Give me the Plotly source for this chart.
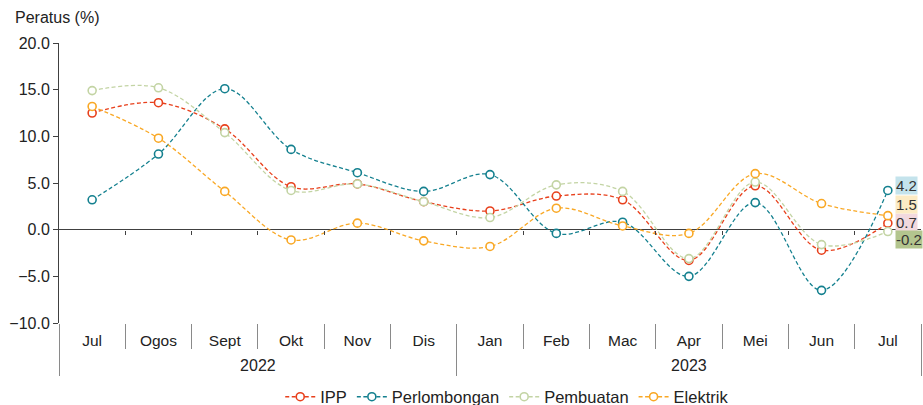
import plotly.graph_objects as go

months = ["Jul", "Ogos", "Sept", "Okt", "Nov", "Dis", "Jan", "Feb", "Mac", "Apr", "Mei", "Jun", "Jul"]
years = ["2022"] * 6 + ["2023"] * 7

ipp = [12.5, 13.6, 10.8, 4.6, 4.9, 3.0, 2.0, 3.6, 3.2, -3.3, 4.7, -2.2, 0.7]
perlombongan = [3.2, 8.1, 15.1, 8.6, 6.1, 4.1, 5.9, -0.4, 0.8, -5.0, 2.9, -6.5, 4.2]
pembuatan = [14.9, 15.2, 10.4, 4.2, 4.9, 3.0, 1.3, 4.8, 4.1, -3.1, 5.1, -1.6, -0.2]
elektrik = [13.2, 9.8, 4.1, -1.1, 0.7, -1.2, -1.8, 2.3, 0.4, -0.4, 6.0, 2.8, 1.5]

series = [
    ("IPP", ipp, "#E8401C", "#F2D9DE", 1),
    ("Perlombongan", perlombongan, "#14808F", "#C4E3EC", 5),
    ("Pembuatan", pembuatan, "#C3D4A4", "#B3C58E", -8),
    ("Elektrik", elektrik, "#F9A825", "#FCEBC4", 11),
]

y_range = [-10, 20]
n = len(months)
idx = list(range(n))
x_range = [-0.5, n - 0.5]

# year groups derived from the data
year_names = list(dict.fromkeys(years))
year_centers = [sum(i for i in idx if years[i] == y) / years.count(y) for y in year_names]
year_bounds = [-0.5] + [i + 0.5 for i in idx[:-1] if years[i] != years[i + 1]] + [n - 0.5]
month_bounds = [i + 0.5 for i in idx[:-1] if years[i] == years[i + 1]]

FONT = "Liberation Sans, Arial, sans-serif"
TXT = "#222222"
AX = "#404040"
DIV = "#8a8a8a"

fig = go.Figure()
for name, vals, col, bg, ys in series:
    fig.add_trace(go.Scatter(
        x=idx, y=vals, name=name, mode="lines+markers",
        line=dict(color=col, width=1.3, dash="4px,2.5px", shape="spline", smoothing=1),
        marker=dict(symbol="circle", size=8, color="white", line=dict(color=col, width=1.6)),
        hovertemplate="%{y:.1f}<extra>" + name + "</extra>",
    ))

# invisible hosts for the helper axes
fig.add_trace(go.Scatter(x=[None], y=[None], xaxis="x2", showlegend=False, hoverinfo="skip"))
fig.add_trace(go.Scatter(x=[None], y=[None], xaxis="x3", showlegend=False, hoverinfo="skip"))

for name, vals, col, bg, ys in series:
    fig.add_annotation(
        x=idx[-1], y=vals[-1], xref="x", yref="y",
        text=f"{vals[-1]:.1f}", showarrow=False, xanchor="left", yanchor="middle",
        xshift=7, yshift=ys, bgcolor=bg, borderpad=0,
        font=dict(family=FONT, size=15, color="#333333"),
    )

zero_pos = (0 - y_range[0]) / (y_range[1] - y_range[0])

fig.update_layout(
    width=923, height=405,
    margin=dict(l=59, r=2, t=43, b=82),
    paper_bgcolor="white", plot_bgcolor="white",
    font=dict(family=FONT, size=15, color=TXT),
    title=dict(text="Peratus (%)", x=15/923, xanchor="left", y=1-17/405, yanchor="middle",
               xref="container", yref="container", font=dict(family=FONT, size=16, color=TXT)),
    xaxis=dict(range=x_range, tickmode="array", tickvals=idx, ticktext=months,
               ticks="", showgrid=False, zeroline=False, showline=False, automargin=False,
               ticklabelstandoff=6,
               minor=dict(tickmode="array", tickvals=month_bounds, ticks="outside",
                          ticklen=25, tickcolor=DIV, tickwidth=1, showgrid=False),
               tickfont=dict(family=FONT, size=15.5, color=TXT)),
    xaxis2=dict(overlaying="x", anchor="free", position=zero_pos, range=x_range,
                tickmode="array", tickvals=[i + 0.5 for i in idx[:-1]], ticks="outside", ticklen=4,
                tickcolor=AX, showticklabels=False, showline=False,
                showgrid=False, zeroline=False, automargin=False),
    xaxis3=dict(overlaying="x", anchor="y", side="bottom", range=x_range,
                tickmode="array", tickvals=year_centers, ticktext=year_names,
                ticks="", showline=False, showgrid=False, zeroline=False, automargin=False,
                ticklabelstandoff=31,
                minor=dict(tickmode="array", tickvals=year_bounds, ticks="outside",
                           ticklen=52, tickcolor=DIV, tickwidth=1, showgrid=False),
                tickfont=dict(family=FONT, size=16, color=TXT)),
    yaxis=dict(range=y_range, dtick=5, tickformat=".1f", showgrid=False, automargin=False,
               zeroline=True, zerolinecolor=AX, zerolinewidth=1,
               showline=True, linecolor=AX, linewidth=1,
               ticks="outside", ticklen=5, tickcolor=AX,
               tickfont=dict(family=FONT, size=16, color=TXT)),
    legend=dict(orientation="h", x=0.52, xanchor="center", xref="paper",
                y=1-397/405, yanchor="middle", yref="container",
                font=dict(family=FONT, size=16.5, color=TXT)),
    showlegend=True,
)

fig.write_html("out.html", config={"displayModeBar": False},
               post_script="document.body.style.margin='0';")
